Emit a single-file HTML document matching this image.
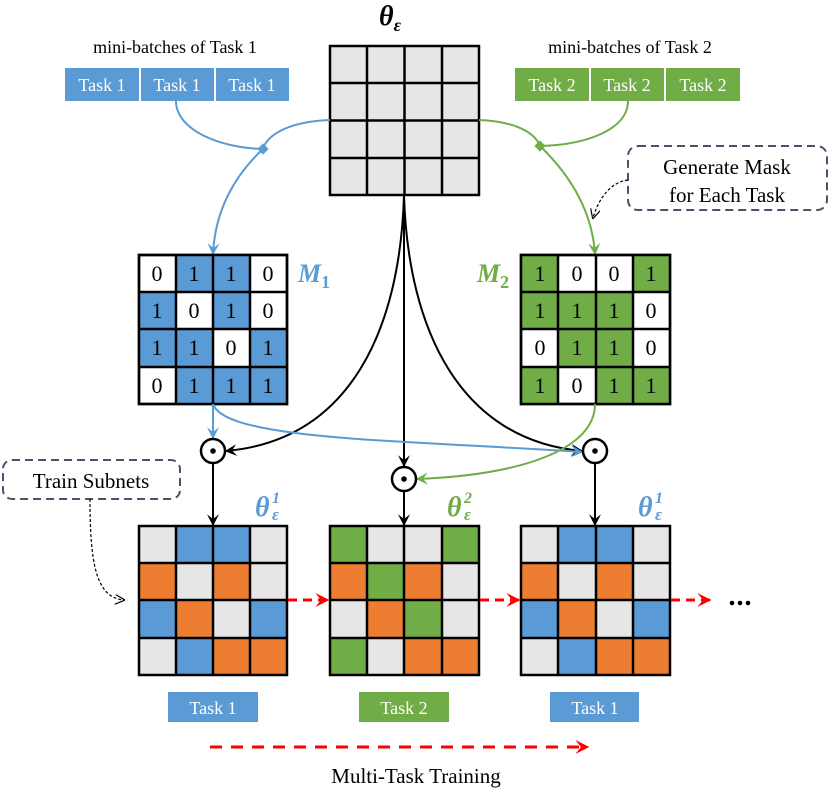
<!DOCTYPE html>
<html><head><meta charset="utf-8"><style>
html,body{margin:0;padding:0;background:#fff;}
svg, svg text{font-family:"Liberation Serif","Times New Roman",serif;}
</style></head><body>
<svg width="830" height="790" viewBox="0 0 830 790" xmlns="http://www.w3.org/2000/svg" font-family="Liberation Serif, serif">
<defs>
<marker id="ab" viewBox="0 0 10 10" refX="9" refY="5" markerWidth="12" markerHeight="12" markerUnits="userSpaceOnUse" orient="auto"><path d="M0,0 L10,5 L0,10 L4,5 Z" fill="#000"/></marker>
<marker id="abl" viewBox="0 0 10 10" refX="9" refY="5" markerWidth="12" markerHeight="12" markerUnits="userSpaceOnUse" orient="auto"><path d="M0,0 L10,5 L0,10 L4,5 Z" fill="#5b9bd5"/></marker>
<marker id="agr" viewBox="0 0 10 10" refX="9" refY="5" markerWidth="12" markerHeight="12" markerUnits="userSpaceOnUse" orient="auto"><path d="M0,0 L10,5 L0,10 L4,5 Z" fill="#70ad47"/></marker>
<marker id="ard" viewBox="0 0 10 10" refX="9" refY="5" markerWidth="16" markerHeight="14" markerUnits="userSpaceOnUse" orient="auto"><path d="M0,0 L10,5 L0,10 L4,5 Z" fill="#f00"/></marker>
<marker id="aop" viewBox="0 0 10 10" refX="9" refY="5" markerWidth="10" markerHeight="10" markerUnits="userSpaceOnUse" orient="auto"><path d="M0,0 L10,5 L0,10" fill="none" stroke="#000" stroke-width="1.2"/></marker>
</defs>

<text x="390" y="25" font-size="28" font-weight="bold" font-style="italic" text-anchor="middle" font-family="Liberation Serif, serif">θ<tspan font-size="18" dy="6">ε</tspan></text>

<g font-family="Liberation Serif, serif">
<text x="175" y="53" font-size="18" text-anchor="middle">mini-batches of Task 1</text>
<text x="630" y="53" font-size="18" text-anchor="middle">mini-batches of Task 2</text>
</g>
<g fill="#5b9bd5"><rect x="65" y="68" width="74" height="33"/><rect x="141" y="68" width="73" height="33"/><rect x="216" y="68" width="73" height="33"/></g>
<g fill="#70ad47"><rect x="515" y="68" width="74" height="33"/><rect x="591" y="68" width="73" height="33"/><rect x="666" y="68" width="74" height="33"/></g>
<g fill="#fff" font-size="18" text-anchor="middle" font-family="Liberation Serif, serif">
<text x="102" y="91">Task 1</text><text x="177" y="91">Task 1</text><text x="252" y="91">Task 1</text>
<text x="552" y="91">Task 2</text><text x="627" y="91">Task 2</text><text x="703" y="91">Task 2</text>
</g>

<g stroke="#000" stroke-width="2.5">
<rect x="330" y="46" width="149" height="149" fill="#e6e6e6"/>
<line x1="367" y1="46" x2="367" y2="195"/><line x1="404.5" y1="46" x2="404.5" y2="195"/><line x1="442" y1="46" x2="442" y2="195"/>
<line x1="330" y1="83" x2="479" y2="83"/><line x1="330" y1="120.5" x2="479" y2="120.5"/><line x1="330" y1="158" x2="479" y2="158"/>
</g>

<g fill="none" stroke="#5b9bd5" stroke-width="2">
<path d="M176,101 C176,130 220,148 263,149"/>
<path d="M330,120 C280,122 265,140 263,149"/>
<path d="M263,149 C235,175 215,210 213,254" marker-end="url(#abl)"/>
</g>
<rect x="259" y="145" width="8" height="8" fill="#5b9bd5" transform="rotate(45 263 149)"/>
<g fill="none" stroke="#70ad47" stroke-width="2">
<path d="M628,101 C628,130 585,145 540,146"/>
<path d="M479,120 C525,122 537,138 540,146"/>
<path d="M540,146 C570,175 592,210 595,254" marker-end="url(#agr)"/>
</g>
<rect x="536" y="142" width="8" height="8" fill="#70ad47" transform="rotate(45 540 146)"/>

<rect x="628" y="146" width="199" height="64" rx="10" fill="none" stroke="#44546a" stroke-width="2" stroke-dasharray="8,5"/>
<g font-family="Liberation Serif, serif" font-size="21" text-anchor="middle">
<text x="727" y="174">Generate Mask</text>
<text x="727" y="202">for Each Task</text>
</g>
<path d="M628,180 C610,182 598,200 593,218" fill="none" stroke="#000" stroke-width="1.2" stroke-dasharray="3,2" marker-end="url(#aop)"/>

<g stroke="#000" stroke-width="2.5">
<rect x="139" y="255" width="148" height="149" fill="#fff"/>
<g fill="#5b9bd5" stroke="none">
<rect x="176" y="255" width="74" height="37"/>
<rect x="139" y="292" width="37" height="37"/><rect x="213" y="292" width="37" height="37"/>
<rect x="139" y="329" width="74" height="38"/><rect x="250" y="329" width="37" height="38"/>
<rect x="176" y="367" width="111" height="37"/>
</g>
<rect x="139" y="255" width="148" height="149" fill="none"/>
<line x1="176" y1="255" x2="176" y2="404"/><line x1="213" y1="255" x2="213" y2="404"/><line x1="250" y1="255" x2="250" y2="404"/>
<line x1="139" y1="292" x2="287" y2="292"/><line x1="139" y1="329" x2="287" y2="329"/><line x1="139" y1="367" x2="287" y2="367"/>
</g>
<g font-size="22" text-anchor="middle" font-family="Liberation Serif, serif">
<text x="157" y="281">0</text><text x="194" y="281">1</text><text x="231" y="281">1</text><text x="268" y="281">0</text>
<text x="157" y="318">1</text><text x="194" y="318">0</text><text x="231" y="318">1</text><text x="268" y="318">0</text>
<text x="157" y="355">1</text><text x="194" y="355">1</text><text x="231" y="355">0</text><text x="268" y="355">1</text>
<text x="157" y="393">0</text><text x="194" y="393">1</text><text x="231" y="393">1</text><text x="268" y="393">1</text>
</g>
<text x="298" y="282" font-size="26" font-weight="bold" font-style="italic" fill="#5b9bd5" font-family="Liberation Serif, serif">M<tspan font-size="18" dy="6" font-style="normal">1</tspan></text>

<g stroke="#000" stroke-width="2.5">
<rect x="521" y="255" width="149" height="149" fill="#fff"/>
<g fill="#70ad47" stroke="none">
<rect x="521" y="255" width="37" height="37"/><rect x="633" y="255" width="37" height="37"/>
<rect x="521" y="292" width="112" height="37"/>
<rect x="558" y="329" width="75" height="38"/>
<rect x="521" y="367" width="37" height="37"/><rect x="596" y="367" width="74" height="37"/>
</g>
<rect x="521" y="255" width="149" height="149" fill="none"/>
<line x1="558" y1="255" x2="558" y2="404"/><line x1="596" y1="255" x2="596" y2="404"/><line x1="633" y1="255" x2="633" y2="404"/>
<line x1="521" y1="292" x2="670" y2="292"/><line x1="521" y1="329" x2="670" y2="329"/><line x1="521" y1="367" x2="670" y2="367"/>
</g>
<g font-size="22" text-anchor="middle" font-family="Liberation Serif, serif">
<text x="540" y="281">1</text><text x="577" y="281">0</text><text x="614" y="281">0</text><text x="651" y="281">1</text>
<text x="540" y="318">1</text><text x="577" y="318">1</text><text x="614" y="318">1</text><text x="651" y="318">0</text>
<text x="540" y="355">0</text><text x="577" y="355">1</text><text x="614" y="355">1</text><text x="651" y="355">0</text>
<text x="540" y="393">1</text><text x="577" y="393">0</text><text x="614" y="393">1</text><text x="651" y="393">1</text>
</g>
<text x="477" y="282" font-size="26" font-weight="bold" font-style="italic" fill="#70ad47" font-family="Liberation Serif, serif">M<tspan font-size="18" dy="6" font-style="normal">2</tspan></text>

<g fill="none" stroke="#000" stroke-width="2">
<path d="M404,195 C400,330 350,440 226,451" marker-end="url(#ab)"/>
<path d="M404,195 L404,466" marker-end="url(#ab)"/>
<path d="M404,195 C408,330 460,440 582,451" marker-end="url(#ab)"/>
</g>
<g fill="none" stroke="#5b9bd5" stroke-width="2">
<path d="M213,404 L213,438" marker-end="url(#abl)"/>
<path d="M213,404 C225,440 400,440 582,452" marker-end="url(#abl)"/>
</g>
<path d="M595,404 C595,450 520,475 417,479" fill="none" stroke="#70ad47" stroke-width="2" marker-end="url(#agr)"/>

<g fill="#fff" stroke="#000" stroke-width="2.5">
<circle cx="213" cy="451" r="12"/><circle cx="404" cy="479" r="12"/><circle cx="595" cy="451" r="12"/>
</g>
<g fill="#000"><circle cx="213" cy="451" r="2.8"/><circle cx="404" cy="479" r="2.8"/><circle cx="595" cy="451" r="2.8"/></g>
<g stroke="#000" stroke-width="2" fill="none">
<path d="M213,463 L213,525" marker-end="url(#ab)"/>
<path d="M404,491 L404,525" marker-end="url(#ab)"/>
<path d="M595,463 L595,525" marker-end="url(#ab)"/>
</g>

<g font-size="28" font-weight="bold" font-style="italic" font-family="Liberation Serif, serif">
<text x="255" y="516" fill="#5b9bd5">θ</text><text x="272" y="503" font-size="16" fill="#5b9bd5">1</text><text x="272" y="520" font-size="17" fill="#5b9bd5">ε</text>
<text x="447" y="516" fill="#70ad47">θ</text><text x="464" y="503" font-size="16" fill="#70ad47">2</text><text x="464" y="520" font-size="17" fill="#70ad47">ε</text>
<text x="638" y="516" fill="#5b9bd5">θ</text><text x="655" y="503" font-size="16" fill="#5b9bd5">1</text><text x="655" y="520" font-size="17" fill="#5b9bd5">ε</text>
</g>

<rect x="3" y="460" width="177" height="39" rx="9" fill="none" stroke="#44546a" stroke-width="2" stroke-dasharray="8,5"/>
<text x="91" y="488" font-size="21" text-anchor="middle" font-family="Liberation Serif, serif">Train Subnets</text>
<path d="M90,499 C90,560 95,598 124,600" fill="none" stroke="#000" stroke-width="1.2" stroke-dasharray="3,2" marker-end="url(#aop)"/>

<g stroke="none">
<g transform="translate(139,526)">
<rect width="148" height="149" fill="#e6e6e6"/>
<rect x="37" y="0" width="74" height="37" fill="#5b9bd5"/>
<rect x="0" y="37" width="37" height="37" fill="#ed7d31"/><rect x="74" y="37" width="37" height="37" fill="#ed7d31"/>
<rect x="0" y="74" width="37" height="38" fill="#5b9bd5"/><rect x="37" y="74" width="37" height="38" fill="#ed7d31"/><rect x="111" y="74" width="37" height="38" fill="#5b9bd5"/>
<rect x="37" y="112" width="37" height="37" fill="#5b9bd5"/><rect x="74" y="112" width="74" height="37" fill="#ed7d31"/>
</g>
<g transform="translate(330,526)">
<rect width="149" height="149" fill="#e6e6e6"/>
<rect x="0" y="0" width="37" height="37" fill="#70ad47"/><rect x="112" y="0" width="37" height="37" fill="#70ad47"/>
<rect x="0" y="37" width="37" height="37" fill="#ed7d31"/><rect x="37" y="37" width="37" height="37" fill="#70ad47"/><rect x="74" y="37" width="38" height="37" fill="#ed7d31"/>
<rect x="37" y="74" width="37" height="38" fill="#ed7d31"/><rect x="74" y="74" width="38" height="38" fill="#70ad47"/>
<rect x="0" y="112" width="37" height="37" fill="#70ad47"/><rect x="74" y="112" width="75" height="37" fill="#ed7d31"/>
</g>
<g transform="translate(521,526)">
<rect width="149" height="149" fill="#e6e6e6"/>
<rect x="37" y="0" width="75" height="37" fill="#5b9bd5"/>
<rect x="0" y="37" width="37" height="37" fill="#ed7d31"/><rect x="75" y="37" width="37" height="37" fill="#ed7d31"/>
<rect x="0" y="74" width="37" height="38" fill="#5b9bd5"/><rect x="37" y="74" width="38" height="38" fill="#ed7d31"/><rect x="112" y="74" width="37" height="38" fill="#5b9bd5"/>
<rect x="37" y="112" width="38" height="37" fill="#5b9bd5"/><rect x="75" y="112" width="74" height="37" fill="#ed7d31"/>
</g>
</g>
<g stroke="#000" stroke-width="2.5" fill="none">
<rect x="139" y="526" width="148" height="149"/>
<line x1="176" y1="526" x2="176" y2="675"/><line x1="213" y1="526" x2="213" y2="675"/><line x1="250" y1="526" x2="250" y2="675"/>
<line x1="139" y1="563" x2="287" y2="563"/><line x1="139" y1="600" x2="287" y2="600"/><line x1="139" y1="638" x2="287" y2="638"/>
<rect x="330" y="526" width="149" height="149"/>
<line x1="367" y1="526" x2="367" y2="675"/><line x1="404" y1="526" x2="404" y2="675"/><line x1="442" y1="526" x2="442" y2="675"/>
<line x1="330" y1="563" x2="479" y2="563"/><line x1="330" y1="600" x2="479" y2="600"/><line x1="330" y1="638" x2="479" y2="638"/>
<rect x="521" y="526" width="149" height="149"/>
<line x1="558" y1="526" x2="558" y2="675"/><line x1="596" y1="526" x2="596" y2="675"/><line x1="633" y1="526" x2="633" y2="675"/>
<line x1="521" y1="563" x2="670" y2="563"/><line x1="521" y1="600" x2="670" y2="600"/><line x1="521" y1="638" x2="670" y2="638"/>
</g>

<g stroke="#f00" stroke-width="3" fill="none" stroke-dasharray="9,6">
<path d="M288,600 L328,600" marker-end="url(#ard)"/>
<path d="M480,600 L519,600" marker-end="url(#ard)"/>
<path d="M671,600 L710,600" marker-end="url(#ard)"/>
</g>
<g fill="#000"><circle cx="732" cy="603" r="2.3"/><circle cx="740" cy="603" r="2.3"/><circle cx="748" cy="603" r="2.3"/></g>

<rect x="168" y="692" width="90" height="30" fill="#5b9bd5"/>
<rect x="359" y="692" width="90" height="30" fill="#70ad47"/>
<rect x="550" y="692" width="89" height="30" fill="#5b9bd5"/>
<g fill="#fff" font-size="18" text-anchor="middle" font-family="Liberation Serif, serif">
<text x="213" y="714">Task 1</text><text x="404" y="714">Task 2</text><text x="595" y="714">Task 1</text>
</g>

<path d="M210,747 L588,747" stroke="#f00" stroke-width="3" fill="none" stroke-dasharray="12,9" marker-end="url(#ard)"/>
<text x="416" y="783" font-size="21" text-anchor="middle" font-family="Liberation Serif, serif">Multi-Task Training</text>
</svg>
</body></html>
